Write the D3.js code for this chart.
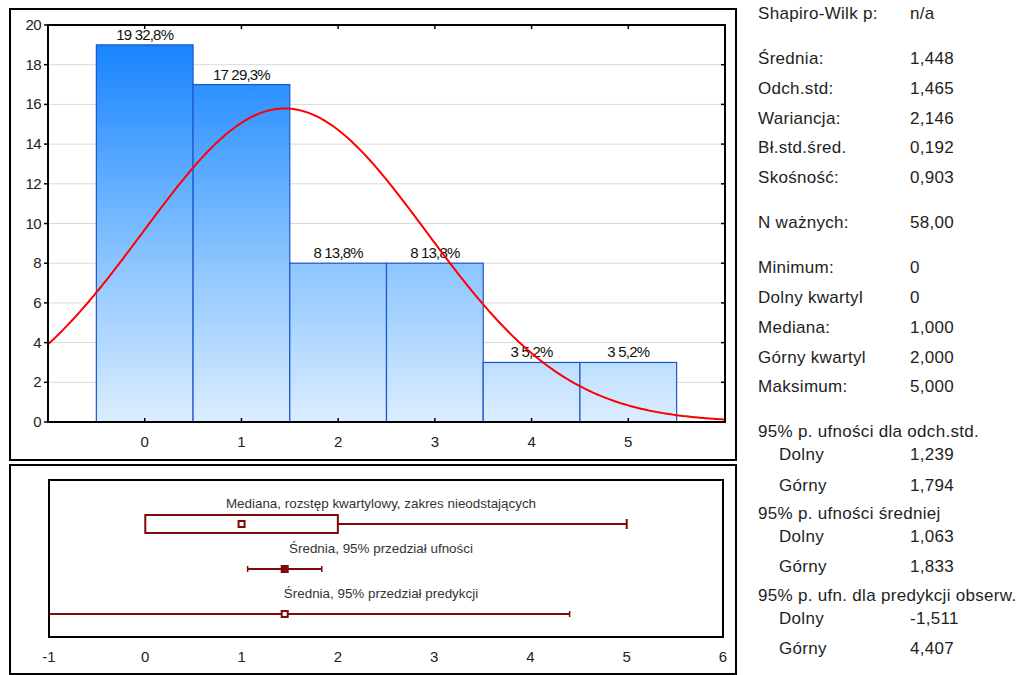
<!DOCTYPE html>
<html lang="pl">
<head>
<meta charset="utf-8">
<title>Histogram i statystyki opisowe</title>
<script src="https://cdn.jsdelivr.net/npm/d3@7/dist/d3.min.js"></script>
<style>
  html, body { margin: 0; padding: 0; background: #fff; }
  svg { display: block; font-family: "Liberation Sans", Arial, sans-serif; }
</style>
</head>
<body>
<svg id="chart" width="1020" height="675"></svg>
<script>
// ---- data ----
const binCenters = [0, 1, 2, 3, 4, 5];
const binCounts = [19, 17, 8, 8, 3, 3];
const histYTicks = [0, 2, 4, 6, 8, 10, 12, 14, 16, 18, 20];
const histXTicks = [0, 1, 2, 3, 4, 5];
const boxXTicks = [-1, 0, 1, 2, 3, 4, 5, 6];

const nValid = 58;
const meanValue = 1.448;
const sdValue = 1.465;

const normalityRows = [["Shapiro-Wilk p:", "n/a"]];
const summaryNames = ["Średnia:", "Odch.std:", "Wariancja:", "Bł.std.śred.", "Skośność:"];
const summaryValues = [1.448, 1.465, 2.146, 0.192, 0.903];
const quantileNames = ["Minimum:", "Dolny kwartyl", "Mediana:", "Górny kwartyl", "Maksimum:"];
const quantileValues = [0, 0, 1, 2, 5]; // min, Q1, median, Q3, max
const intervalTitles = ["95% p. ufności dla odch.std.", "95% p. ufności średniej", "95% p. ufn. dla predykcji obserw."];
const intervalLower = [1.239, 1.063, -1.511];
const intervalUpper = [1.794, 1.833, 4.407];

const boxRowTitles = [
  "Mediana, rozstęp kwartylowy, zakres nieodstających",
  "Średnia, 95% przedział ufności",
  "Średnia, 95% przedział predykcji"
];

// ---- formatting (Polish decimal comma) ----
const pl = d3.formatLocale({ decimal: ",", thousands: " ", grouping: [3], currency: ["", " zł"], minus: "-" });
const f3 = v => v === 0 ? "0" : pl.format(".3f")(v);
const f2 = pl.format(".2f");
const f1 = pl.format(".1f");

const svg = d3.select("#chart");
const maroon = "#7d0b0b";

// ---- panel frames ----
svg.append("rect").attr("x", 10).attr("y", 9).attr("width", 726).attr("height", 451)
  .attr("fill", "#fff").attr("stroke", "#000").attr("stroke-width", 2);
svg.append("rect").attr("x", 10).attr("y", 465).attr("width", 726).attr("height", 209)
  .attr("fill", "#fff").attr("stroke", "#000").attr("stroke-width", 2);

// ---- histogram ----
const hp = { left: 48, right: 725, top: 25, bottom: 422 };
const x = d3.scaleLinear().domain([-1, 6]).range([hp.left, hp.right]);
const y = d3.scaleLinear().domain([0, 20]).range([hp.bottom, hp.top]);

const defs = svg.append("defs");
const grad = defs.append("linearGradient").attr("id", "barFill")
  .attr("gradientUnits", "userSpaceOnUse")
  .attr("x1", 0).attr("x2", 0).attr("y1", y(19)).attr("y2", y(0));
grad.append("stop").attr("offset", 0).attr("stop-color", "#1884ff");
grad.append("stop").attr("offset", 0.55).attr("stop-color", "#86c2ff");
grad.append("stop").attr("offset", 1).attr("stop-color", "#dcedff");

defs.append("clipPath").attr("id", "histClip").append("rect")
  .attr("x", hp.left).attr("y", hp.top).attr("width", hp.right - hp.left).attr("height", hp.bottom - hp.top);

// gridlines
svg.append("g").selectAll("line").data(histYTicks.filter(d => d > 0 && d < 20)).join("line")
  .attr("x1", hp.left).attr("x2", hp.right)
  .attr("y1", d => y(d)).attr("y2", d => y(d))
  .attr("stroke", "#dadada").attr("stroke-width", 1);

// bars
svg.append("g").selectAll("rect").data(binCenters).join("rect")
  .attr("x", d => x(d - 0.5))
  .attr("width", d => x(d + 0.5) - x(d - 0.5))
  .attr("y", (d, i) => y(binCounts[i]))
  .attr("height", (d, i) => y(0) - y(binCounts[i]))
  .attr("fill", "url(#barFill)")
  .attr("stroke", "#1c57cc").attr("stroke-width", 1.2);

// bar labels: count and share of N
svg.append("g").selectAll("text").data(binCenters).join("text")
  .attr("x", d => x(d))
  .attr("y", (d, i) => y(binCounts[i]) - 5)
  .attr("text-anchor", "middle")
  .attr("font-size", 15).attr("letter-spacing", -0.8).attr("fill", "#111")
  .text((d, i) => `${binCounts[i]} ${f1(binCounts[i] / nValid * 100)}%`);

// fitted normal curve (expected counts per unit-width bin)
const normalPdf = v => Math.exp(-0.5 * ((v - meanValue) / sdValue) ** 2) / (sdValue * Math.sqrt(2 * Math.PI));
const curveXs = d3.range(-1, 6.0001, 0.02);
svg.append("path")
  .attr("clip-path", "url(#histClip)")
  .attr("d", d3.line().x(v => x(v)).y(v => y(nValid * normalPdf(v)))(curveXs))
  .attr("fill", "none").attr("stroke", "#ff0000").attr("stroke-width", 2);

// axes frame + ticks
const axisG = svg.append("g").attr("stroke", "#000");
histYTicks.forEach(t => {
  axisG.append("line").attr("x1", hp.left - 4).attr("x2", hp.left).attr("y1", y(t)).attr("y2", y(t)).attr("stroke-width", 1.5);
  axisG.append("line").attr("x1", hp.right - 4).attr("x2", hp.right).attr("y1", y(t)).attr("y2", y(t)).attr("stroke-width", 1.5);
});
histXTicks.forEach(t => {
  axisG.append("line").attr("x1", x(t)).attr("x2", x(t)).attr("y1", hp.bottom - 4).attr("y2", hp.bottom).attr("stroke-width", 1.5);
  axisG.append("line").attr("x1", x(t)).attr("x2", x(t)).attr("y1", hp.top).attr("y2", hp.top + 4).attr("stroke-width", 1.5);
});
svg.append("rect").attr("x", hp.left).attr("y", hp.top)
  .attr("width", hp.right - hp.left).attr("height", hp.bottom - hp.top)
  .attr("fill", "none").attr("stroke", "#000").attr("stroke-width", 2);

svg.append("g").selectAll("text").data(histYTicks).join("text")
  .attr("x", hp.left - 7).attr("y", d => y(d) + 5)
  .attr("text-anchor", "end").attr("font-size", 15).attr("letter-spacing", -0.6).attr("fill", "#222")
  .text(d => d);
svg.append("g").selectAll("text").data(histXTicks).join("text")
  .attr("x", d => x(d)).attr("y", hp.bottom + 25)
  .attr("text-anchor", "middle").attr("font-size", 15).attr("fill", "#222")
  .text(d => d);

// ---- box / interval plot ----
const bp = { left: 49, right: 723, top: 480, bottom: 637 };
const bx = d3.scaleLinear().domain([-1, 6]).range([bp.left, bp.right]);
const rowY = [524, 569, 614];
const bMid = (bp.left + bp.right) / 2 - 5;

defs.append("clipPath").attr("id", "boxClip").append("rect")
  .attr("x", bp.left).attr("y", bp.top).attr("width", bp.right - bp.left).attr("height", bp.bottom - bp.top);

svg.append("g").selectAll("text").data(boxRowTitles).join("text")
  .attr("x", bMid).attr("y", (d, i) => rowY[i] - 16)
  .attr("text-anchor", "middle").attr("font-size", 13.4).attr("fill", "#333")
  .text(d => d);

const bg = svg.append("g").attr("clip-path", "url(#boxClip)");
const [qMin, q1, qMed, q3, qMax] = quantileValues;

// row 1: median, IQR box, non-outlier range
bg.append("line").attr("x1", bx(q3)).attr("x2", bx(qMax)).attr("y1", rowY[0]).attr("y2", rowY[0])
  .attr("stroke", maroon).attr("stroke-width", 2);
bg.append("line").attr("x1", bx(qMin)).attr("x2", bx(q1)).attr("y1", rowY[0]).attr("y2", rowY[0])
  .attr("stroke", maroon).attr("stroke-width", 2);
bg.append("line").attr("x1", bx(qMax)).attr("x2", bx(qMax)).attr("y1", rowY[0] - 5).attr("y2", rowY[0] + 5)
  .attr("stroke", maroon).attr("stroke-width", 2);
bg.append("rect").attr("x", bx(q1)).attr("y", rowY[0] - 9)
  .attr("width", bx(q3) - bx(q1)).attr("height", 18)
  .attr("fill", "#fff").attr("stroke", maroon).attr("stroke-width", 2);
bg.append("rect").attr("x", bx(qMed) - 3).attr("y", rowY[0] - 3).attr("width", 6).attr("height", 6)
  .attr("fill", "#fff").attr("stroke", maroon).attr("stroke-width", 2);

// rows 2 and 3: mean with confidence / prediction interval
[1, 2].forEach(k => {
  const lo = intervalLower[k], hi = intervalUpper[k], yy = rowY[k];
  bg.append("line").attr("x1", bx(lo)).attr("x2", bx(hi)).attr("y1", yy).attr("y2", yy)
    .attr("stroke", maroon).attr("stroke-width", 2);
  [lo, hi].forEach(v => {
    bg.append("line").attr("x1", bx(v)).attr("x2", bx(v)).attr("y1", yy - 3).attr("y2", yy + 3)
      .attr("stroke", maroon).attr("stroke-width", 1.5);
  });
  bg.append("rect").attr("x", bx(meanValue) - 3).attr("y", yy - 3).attr("width", 6).attr("height", 6)
    .attr("fill", k === 1 ? maroon : "#fff").attr("stroke", maroon).attr("stroke-width", 2);
});

svg.append("rect").attr("x", bp.left).attr("y", bp.top)
  .attr("width", bp.right - bp.left).attr("height", bp.bottom - bp.top)
  .attr("fill", "none").attr("stroke", "#000").attr("stroke-width", 2);
svg.append("g").selectAll("text").data(boxXTicks).join("text")
  .attr("x", d => bx(d)).attr("y", bp.bottom + 25)
  .attr("text-anchor", "middle").attr("font-size", 15).attr("fill", "#222")
  .text(d => d);

// ---- descriptive statistics panel ----
const sp = svg.append("g").attr("font-size", 17).attr("letter-spacing", 0.3).attr("fill", "#1e1e1e");
const labelX = 758, valueX = 910, subX = 779;
const rowStep = 29.8;
let cy = 13;
function statRow(label, value, lx) {
  sp.append("text").attr("x", lx).attr("y", cy + 6).text(label);
  sp.append("text").attr("x", valueX).attr("y", cy + 6).text(value);
}
const plainGroups = [
  normalityRows,
  summaryNames.map((n, i) => [n, f3(summaryValues[i])]),
  [["N ważnych:", f2(nValid)]],
  quantileNames.map((n, i) => [n, f3(quantileValues[i])])
];
plainGroups.forEach(group => {
  group.forEach(([l, v]) => { statRow(l, v, labelX); cy += rowStep; });
  cy += 15.2;
});
intervalTitles.forEach((title, i) => {
  sp.append("text").attr("x", labelX).attr("y", cy + 6).text(title);
  cy += 22.8;
  statRow("Dolny", f3(intervalLower[i]), subX);
  cy += 30.4;
  statRow("Górny", f3(intervalUpper[i]), subX);
  cy += 28.6;
});
</script>
</body>
</html>
